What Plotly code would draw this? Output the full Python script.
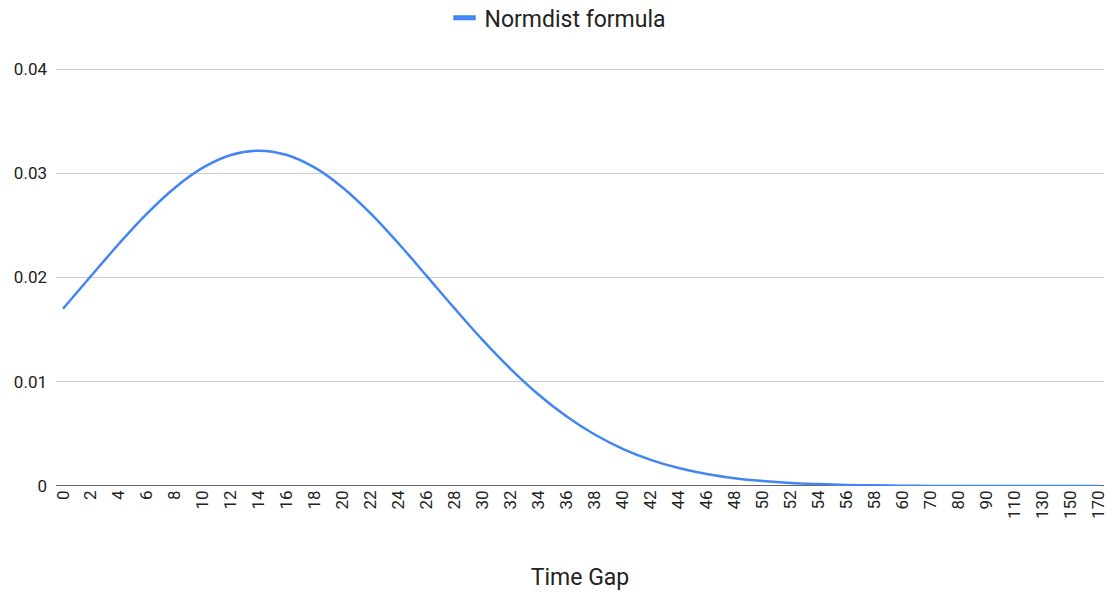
import plotly.graph_objects as go

time_gap = ["0", "2", "4", "6", "8", "10", "12", "14", "16", "18", "20", "22", "24", "26",
            "28", "30", "32", "34", "36", "38", "40", "42", "44", "46", "48", "50", "52",
            "54", "56", "58", "60", "70", "80", "90", "110", "130", "150", "170"]
normdist = [0.01701, 0.02014, 0.02324, 0.02613, 0.02862, 0.03054, 0.03176, 0.03217,
            0.03176, 0.03054, 0.02862, 0.02613, 0.02324, 0.02014, 0.01701, 0.01399,
            0.01122, 0.00876, 0.00667, 0.00494, 0.00357, 0.00251, 0.00172, 0.00115,
            0.00075, 0.00048, 0.00029, 0.00018, 0.00010, 0.00006, 0.00003, 0.0,
            0.0, 0.0, 0.0, 0.0, 0.0, 0.0]
y_ticks = [0, 0.01, 0.02, 0.03, 0.04]
y_tick_text = ["0", "0.01", "0.02", "0.03", "0.04"]
series_name = "Normdist formula"
series_color = "#4285F4"

fig = go.Figure()
fig.add_trace(go.Scatter(
    x=time_gap, y=normdist, mode="lines", name=series_name,
    line=dict(color=series_color, width=2.5, shape="spline", smoothing=1.0),
    showlegend=False,
))
# legend entry drawn as a short thick bar
fig.add_trace(go.Scatter(
    x=[None], y=[None], mode="markers", name=series_name,
    marker=dict(symbol="line-ew", size=16, color=series_color,
                line=dict(color=series_color, width=5)),
    showlegend=True, hoverinfo="skip",
))

fig.update_layout(
    width=1118, height=595,
    margin=dict(l=56, r=10, t=68, b=109),
    paper_bgcolor="white", plot_bgcolor="white",
    font=dict(family="Roboto, Arial, sans-serif", color="#222222", size=17),
    showlegend=True,
    legend=dict(orientation="h", x=0.479, xanchor="center", y=0.97, yanchor="middle",
                yref="container", font=dict(size=23, color="#222222"),
                itemwidth=30),
    xaxis=dict(
        type="category", categoryorder="array", categoryarray=time_gap,
        range=[-0.25, 37.2], tickangle=-90, showgrid=False, showline=False,
        zeroline=False, ticks="", tickfont=dict(size=17, color="#222222"),
        title=dict(text="Time Gap", font=dict(size=23, color="#222222"), standoff=50),
    ),
    yaxis=dict(
        range=[0, 0.0401], tickvals=y_ticks, ticktext=y_tick_text,
        showgrid=True, gridcolor="#CCCCCC", gridwidth=1, zeroline=False,
        showline=False, ticks="", ticklabelstandoff=8,
        tickfont=dict(size=17, color="#222222"),
    ),
    shapes=[dict(type="line", xref="paper", yref="y", x0=0, x1=1, y0=0, y1=0,
                 line=dict(color="#333333", width=1.5), layer="below")],
)

fig.write_html("out.html")
